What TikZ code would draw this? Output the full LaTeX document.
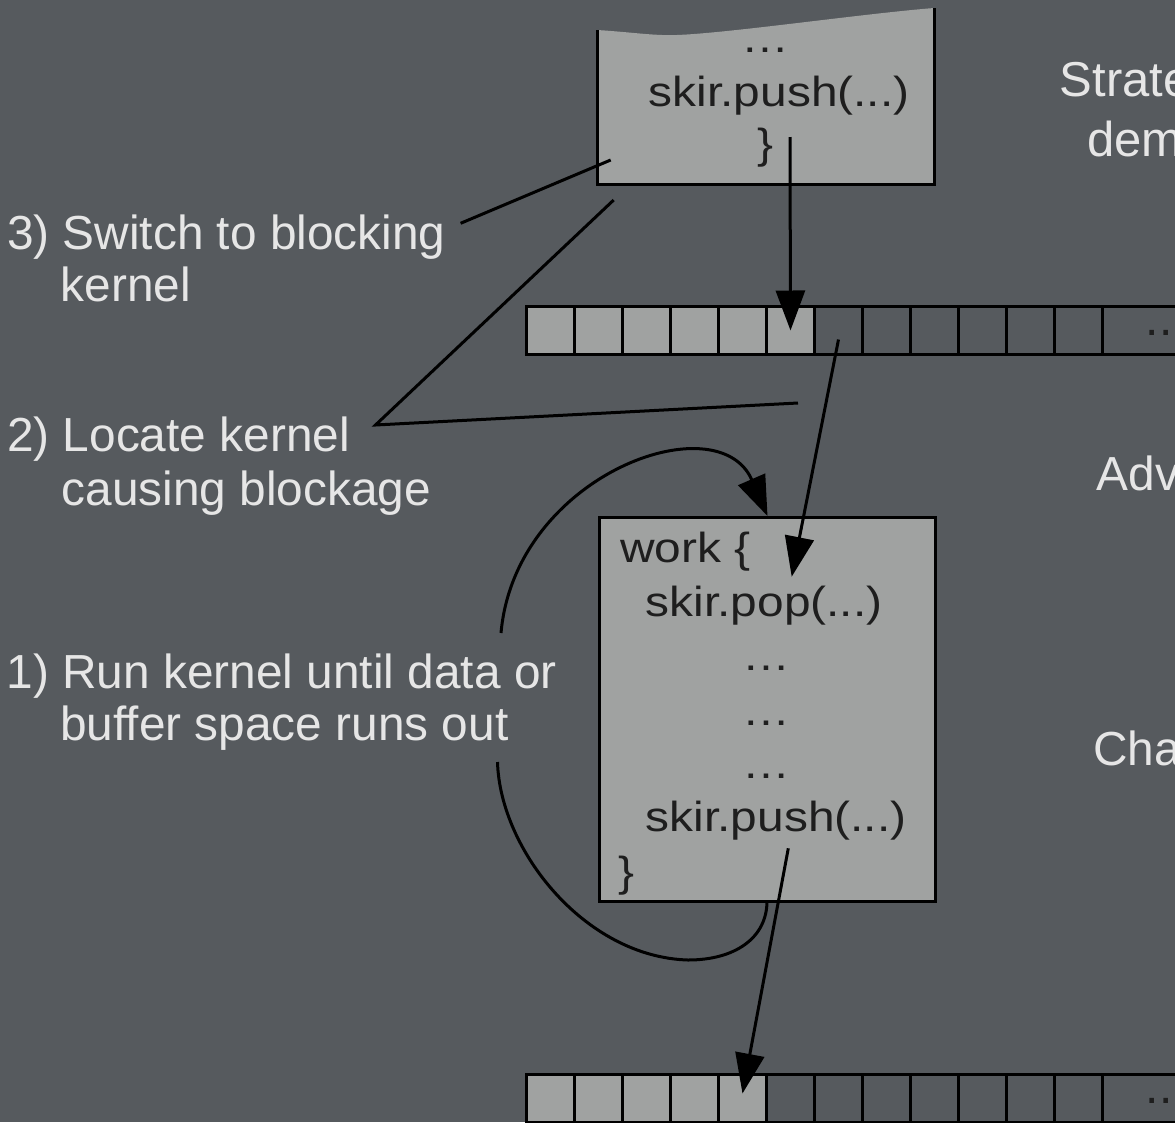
\documentclass[tikz,border=0pt]{standalone}
\usepackage{fontspec}
\setmainfont{Liberation Sans}
\newfontfamily\codefont{Liberation Sans}[FakeStretch=1.14]
\usetikzlibrary{arrows.meta,calc}
\definecolor{slate}{RGB}{86,90,94}
\definecolor{panel}{RGB}{160,162,161}
\definecolor{ink}{RGB}{30,30,30}
\definecolor{chalk}{RGB}{230,230,230}
\newcommand\notesize{\fontsize{47.8}{54}\selectfont}
\newcommand\headsize{\fontsize{49}{60}\selectfont}
\newcommand\listsize{\codefont\fontsize{42}{54}\selectfont}

\begin{document}
\begin{tikzpicture}[x=1pt,y=-1pt,
  wire/.style={line width=3pt,draw=black},
  pointer/.style={wire,-{Triangle[length=40pt,width=29pt]}},
  note/.style={anchor=base west,inner sep=0pt,text=chalk,font=\notesize},
  head/.style={anchor=base west,inner sep=0pt,text=chalk,font=\headsize},
  listing/.style={inner sep=0pt,text=ink,font=\listsize},
  cell/.style={draw=black,line width=3pt,minimum width=48pt,minimum height=48pt,inner sep=0pt,anchor=north west},
  fullcell/.style={cell,fill=panel},
]
% canvas
\useasboundingbox (0,0) rectangle (1175,1122);
\fill[slate] (0,0) rectangle (1175,1122);
\clip (0,0) rectangle (1175,1122);

% torn-off producer kernel
\fill[panel] (597,30) .. controls (630,32) and (655,36) .. (677,35)
  .. controls (730,33) and (860,14) .. (934,8) -- (934,184) -- (597,184) -- cycle;
\draw[wire] (597,30) -- (597,184) -- (934,184) -- (934,8);
\node[listing,anchor=base] (tdots) at (765.5,52) {…};
\node[listing,anchor=base west] (tpush) at (648.5,106) {skir.push(...)};
\node[listing,anchor=base] (tbrace) at (765.8,158) {\}};

% upper channel buffer
\foreach \i in {0,...,5} \node[fullcell] (a\i) at ({525+48*\i},305) {};
\foreach \i in {6,...,11} \node[cell] (a\i) at ({525+48*\i},305) {};
\node[cell,minimum width=120pt] (amore) at (1101,305) {};
\node[anchor=base west,inner sep=0pt,text=ink,font=\fontsize{48}{54}\selectfont] (adots) at (1145.5,335) {...};

% consumer kernel
\node[draw=black,line width=3pt,fill=panel,minimum width=336pt,minimum height=384pt,
  inner sep=0pt,anchor=north west] (kernel) at (598,516) {};
\node[listing,anchor=base west] (kwork) at (620,562.7) {work \{};
\node[listing,anchor=base west] (kpop) at (645.5,616.7) {skir.pop(...)};
\node[listing,anchor=base] (kd1) at (766,670.5) {…};
\node[listing,anchor=base] (kd2) at (766,725) {…};
\node[listing,anchor=base] (kd3) at (766,778.5) {…};
\node[listing,anchor=base west] (kpush) at (645.5,831.7) {skir.push(...)};
\node[listing,anchor=base west] (kbrace) at (618,886.6) {\}};

% lower channel buffer
\foreach \i in {0,...,4} \node[fullcell] (b\i) at ({525+48*\i},1073) {};
\foreach \i in {5,...,11} \node[cell] (b\i) at ({525+48*\i},1073) {};
\node[cell,minimum width=120pt] (bmore) at (1101,1073) {};
\node[anchor=base west,inner sep=0pt,text=ink,font=\fontsize{48}{54}\selectfont] (bdots) at (1145.5,1103) {...};

% step labels
\node[note] (s3a) at (7,249) {3) Switch to blocking};
\node[note] (s3b) at (60.5,301.7) {kernel};
\node[note] (s2a) at (7,451.7) {2) Locate kernel};
\node[note] (s2b) at (61.5,505) {causing blockage};
\node[note] (s1a) at (6.5,688.3) {1) Run kernel until data or};
\node[note] (s1b) at (60,740) {buffer space runs out};

% side headings
\node[head] (h1a) at (1059.5,96.7) {Strate};
\node[head] (h1b) at (1087,156.7) {dem};
\node[note] (h2) at (1096.5,490.7) {Adv};
\node[note] (h3) at (1093,765) {Cha};

% data flow
\coordinate (pushout) at (790,137);
\draw[pointer] (pushout) -- (a5.center);
\coordinate (popin) at (791.7,576.7);
\draw[pointer] ($(a6.center)+(0,9)$) -- (popin);
\coordinate (pushsrc) at (788.3,848.3);
\draw[pointer] (pushsrc) -- ($(b4.center)+(0,-5)$);

% run loop around the consumer kernel
\coordinate (loopstart) at (767,901);
\coordinate (loopgapin) at (497.5,762);
\coordinate (loopgapout) at (501,633);
\draw[wire] (loopstart) .. controls (767,938) and (735,960) .. (688,960)
  .. controls (585,957) and (500,850) .. (loopgapin);
\draw[pointer] (loopgapout) .. controls (515,475) and (718,402) .. (kernel.north);

% leaders from the step labels
\coordinate (l3start) at (460.6,223.3);
\coordinate (l3end) at (610.7,160);
\draw[wire] (l3start) -- (l3end);
\coordinate (l2top) at (613.7,200);
\coordinate (l2apex) at (375.5,425);
\coordinate (l2right) at (798,403);
\draw[wire] (l2top) -- (l2apex) -- (l2right);
\end{tikzpicture}
\end{document}
